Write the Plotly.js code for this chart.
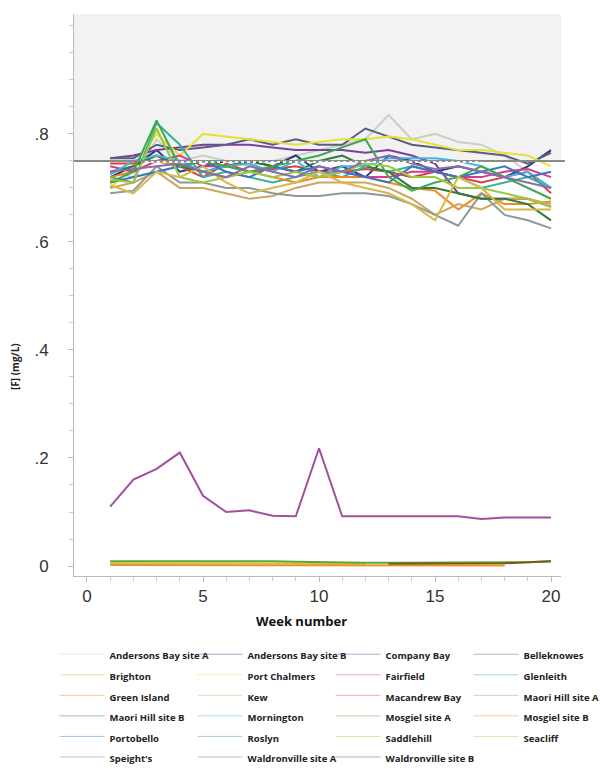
<!DOCTYPE html>
<html>
<head>
<meta charset="utf-8">
<script src="https://cdn.plot.ly/plotly-3.0.1.min.js"></script>
<style>html,body{margin:0;padding:0;background:#fff;}#chart{width:600px;height:769px;}</style>
</head>
<body>
<div id="chart"></div>
<script>
// ---- data ----
const weeks = [1,2,3,4,5,6,7,8,9,10,11,12,13,14,15,16,17,18,19,20];
const siteNames = ["Andersons Bay site A","Andersons Bay site B","Company Bay","Belleknowes",
  "Brighton","Port Chalmers","Fairfield","Glenleith",
  "Green Island","Kew","Macandrew Bay","Maori Hill site A",
  "Maori Hill site B","Mornington","Mosgiel site A","Mosgiel site B",
  "Portobello","Roslyn","Saddlehill","Seacliff",
  "Speight's","Waldronville site A","Waldronville site B"];

const andersonsBayA = [0.73,0.72,0.79,0.75,0.76,0.75,0.74,0.75,0.76,0.77,0.78,0.79,0.835,0.79,0.80,0.785,0.78,0.76,0.73,0.70];
const andersonsBayB = [0.72,0.74,0.77,0.73,0.74,0.75,0.75,0.74,0.76,0.73,0.74,0.72,0.76,0.75,0.73,0.74,0.73,0.72,0.74,0.77];
const companyBay    = [0.755,0.76,0.77,0.775,0.78,0.78,0.78,0.775,0.77,0.77,0.77,0.765,0.77,0.76,0.745,0.69,0.68,0.68,0.68,0.665];
const belleknowes   = [0.755,0.755,0.78,0.77,0.775,0.78,0.79,0.78,0.79,0.78,0.78,0.81,0.795,0.78,0.775,0.77,0.765,0.76,0.745,0.765];
const brighton      = [0.005,0.005,0.005,0.005,0.004,0.004,0.004,0.004,0.004,0.004,0.004,0.004,null,null,null,null,null,null,null,null];
const portChalmers  = [0.70,0.74,0.80,0.76,0.80,0.795,0.79,0.785,0.78,0.785,0.79,0.79,0.795,0.79,0.78,0.77,0.77,0.765,0.76,0.74];
const fairfield     = [0.745,0.745,0.76,0.74,0.72,0.745,0.73,0.735,0.74,0.73,0.73,0.735,0.73,0.72,0.73,0.72,0.71,0.72,0.73,0.69];
const glenleith     = [0.72,0.71,0.82,0.78,0.72,0.73,0.72,0.71,0.72,0.73,0.72,0.74,0.73,0.74,0.73,0.72,0.70,0.71,0.72,0.70];
const greenIsland   = [0.72,0.73,0.75,0.74,0.73,0.72,0.73,0.72,0.71,0.72,0.72,0.72,0.71,0.70,0.695,0.66,0.69,0.67,0.67,0.675];
const kew           = [0.70,0.71,0.73,0.70,0.70,0.69,0.68,0.685,0.70,0.71,0.71,0.71,0.70,0.68,0.65,0.67,0.66,0.68,0.68,0.67];
const macandrewBay  = [0.74,0.73,0.75,0.76,0.74,0.74,0.75,0.74,0.73,0.72,0.73,0.72,0.72,0.73,0.73,0.72,0.72,0.73,0.735,0.72];
const maoriHillA    = [0.69,0.695,0.74,0.71,0.71,0.70,0.70,0.69,0.685,0.685,0.69,0.69,0.685,0.67,0.65,0.63,0.69,0.65,0.64,0.625];
const maoriHillB    = [0.73,0.74,0.76,0.74,0.73,0.74,0.75,0.74,0.73,0.75,0.76,0.74,0.73,0.70,0.70,0.69,0.68,0.68,0.67,0.64];
const mornington    = [0.725,0.75,0.76,0.75,0.73,0.74,0.745,0.73,0.75,0.72,0.74,0.74,0.755,0.755,0.755,0.75,0.74,0.72,0.73,0.70];
const mosgielA      = [0.009,0.009,0.010,0.010,0.010,0.010,0.010,0.009,0.008,0.007,0.007,0.006,0.006,0.006,0.006,0.006,0.006,0.006,0.007,0.009];
const mosgielB      = [0.002,0.002,0.002,0.002,0.002,0.002,0.002,0.002,0.002,0.002,0.002,0.002,0.002,0.002,0.001,0.001,0.001,0.001,null,null];
const portobello    = [0.71,0.72,0.73,0.74,0.75,0.73,0.72,0.74,0.73,0.74,0.73,0.72,0.71,0.74,0.73,0.72,0.73,0.74,0.72,0.73];
const roslyn        = [0.71,0.73,0.825,0.74,0.75,0.74,0.73,0.74,0.75,0.76,0.775,0.79,0.72,0.695,0.71,0.72,0.74,0.72,0.70,0.68];
const saddlehill    = [0.715,0.71,0.81,0.72,0.71,0.72,0.73,0.72,0.73,0.72,0.73,0.745,0.74,0.72,0.72,0.70,0.70,0.69,0.68,0.665];
const seacliff      = [0.705,0.69,0.73,0.72,0.74,0.71,0.69,0.70,0.71,0.73,0.71,0.70,0.69,0.67,0.64,0.72,0.70,0.66,0.66,0.66];
const speights      = [0.73,0.735,0.74,0.745,0.73,0.72,0.74,0.73,0.72,0.74,0.73,0.75,0.76,0.745,0.735,0.74,0.73,0.72,0.71,0.70];
const waldronvilleA = [0.11,0.16,0.18,0.21,0.13,0.10,0.103,0.093,0.092,0.218,0.092,0.092,0.092,0.092,0.092,0.092,0.087,0.09,0.09,0.09];
const waldronvilleB = [null,null,null,null,null,null,null,null,null,null,null,null,0.004,0.004,0.004,0.004,0.005,0.005,0.007,0.009];

const seriesValues = [andersonsBayA,andersonsBayB,companyBay,belleknowes,
  brighton,portChalmers,fairfield,glenleith,
  greenIsland,kew,macandrewBay,maoriHillA,
  maoriHillB,mornington,mosgielA,mosgielB,
  portobello,roslyn,saddlehill,seacliff,
  speights,waldronvilleA,waldronvilleB];

const seriesColors = ["#c9d1c4","#2b3a7a","#7b3fa0","#5a5f7d",
  "#d9c23a","#e6e03a","#d94040","#35b29a",
  "#f08a1c","#cfa561","#d83b8f","#8a9a98",
  "#2f7d3a","#45b5e0","#5aa83a","#f0902a",
  "#3d75c0","#3ea84a","#9bcb3b","#d9b84a",
  "#8c6bb1","#a24f9e","#7a5a1a"];

const yTickVals = [0,0.2,0.4,0.6,0.8];
const yTickText = ["0",".2",".4",".6",".8"];
const xTickVals = [0,5,10,15,20];
const targetLevel = 0.75;
const meanLevel = 0.748;
const meanWeeks = [2.5,17];

// ---- traces ----
const traces = [];
seriesValues.forEach((vals,i)=>{
  traces.push({x:weeks,y:vals,type:'scatter',mode:'lines',name:siteNames[i],
    line:{color:seriesColors[i],width:2},showlegend:false,connectgaps:false,hoverinfo:'skip'});
});
siteNames.forEach((nm,i)=>{
  traces.push({x:[null],y:[null],type:'scatter',mode:'lines',
    name:'<span style="font-size:9.5px">'+nm+'</span>',
    line:{color:seriesColors[i],width:1},opacity:0.45,showlegend:true});
});

const layout = {
  width:600,height:769,
  margin:{l:74,r:39,t:14,b:193,autoexpand:false},
  paper_bgcolor:'#fff',plot_bgcolor:'#fff',
  showlegend:true,
  font:{family:'Liberation Sans, Arial, sans-serif',color:'#333'},
  xaxis:{range:[-0.56,20.43],tickvals:xTickVals,ticks:'outside',ticklen:5,tickcolor:'#bbb',
    minor:{tickmode:'linear',tick0:0,dtick:1,ticks:'outside',ticklen:4,tickcolor:'#ccc'},
    showline:true,linecolor:'#bbb',linewidth:1,showgrid:false,zeroline:false,
    tickfont:{size:17,color:'#333'}},
  yaxis:{range:[-0.0185,1.022],tickvals:yTickVals,ticktext:yTickText,ticks:'outside',ticklen:5,tickcolor:'#bbb',
    minor:{tickmode:'linear',tick0:0,dtick:0.05,ticks:'outside',ticklen:4,tickcolor:'#ccc'},
    showline:true,linecolor:'#bbb',linewidth:1,showgrid:false,zeroline:false,
    ticklabelstandoff:16,tickfont:{size:17,color:'#333'}},
  shapes:[
    {type:'rect',xref:'paper',yref:'y',x0:0,x1:1,y0:targetLevel,y1:1.022,fillcolor:'#f2f2f2',line:{width:0},layer:'below'},
    {type:'line',xref:'paper',yref:'y',x0:0,x1:1.008,y0:targetLevel,y1:targetLevel,line:{color:'#8a8a8a',width:2},layer:'above'},
    {type:'line',xref:'x',yref:'y',x0:meanWeeks[0],x1:meanWeeks[1],y0:meanLevel,y1:meanLevel,line:{color:'#eef4fa',width:2,dash:'dot'},layer:'above'}
  ],
  annotations:[
    {text:'<b>[F] (mg/L)</b>',xref:'paper',yref:'paper',x:-0.121,y:0.372,xanchor:'center',yanchor:'middle',
      textangle:-90,showarrow:false,font:{size:10,color:'#222',family:'Open Sans, sans-serif'}},
    {text:'<b>Week number</b>',xref:'paper',yref:'paper',x:0.468,y:-0.08,xanchor:'center',yanchor:'middle',
      showarrow:false,font:{size:13,color:'#111',family:'Open Sans, sans-serif'}}
  ],
  legend:{orientation:'h',x:-0.04,xanchor:'left',y:-0.112,yanchor:'top',
    entrywidth:78,entrywidthmode:'pixels',itemwidth:45,traceorder:'normal',
    bgcolor:'rgba(0,0,0,0)',font:{size:13.5,color:'#222',family:'Open Sans, sans-serif',weight:'bold'}}
};

Plotly.newPlot('chart',traces,layout,{displayModeBar:false,staticPlot:true});
</script>
</body>
</html>
